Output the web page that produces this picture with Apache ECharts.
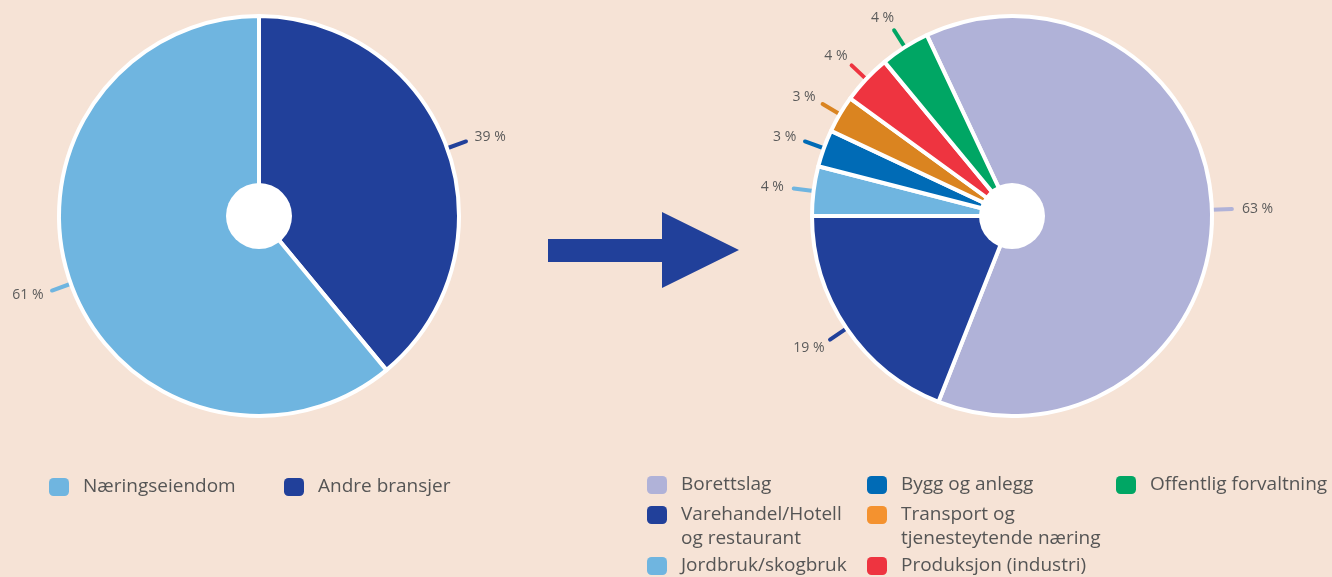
<!DOCTYPE html>
<html>
<head>
<meta charset="utf-8">
<script src="https://cdn.jsdelivr.net/npm/echarts@6/dist/echarts.min.js"></script>
<style>
  html, body { margin: 0; padding: 0; background: #f6e3d6; }
  #chart { width: 1332px; height: 577px; }
</style>
</head>
<body>
<div id="chart"></div>
<script>
// left pie, clockwise from 12 o'clock
var leftNames = ['Andre bransjer', 'Næringseiendom'];
var leftValues = [39, 61];
var leftColors = ['#21409a', '#6fb5e0'];

// right pie, clockwise
var rightNames = [
  'Borettslag',
  'Varehandel/Hotell\nog restaurant',
  'Jordbruk/skogbruk',
  'Bygg og anlegg',
  'Transport og\ntjenesteytende næring',
  'Produksjon (industri)',
  'Offentlig forvaltning'
];
var rightValues = [63, 19, 4, 3, 3, 4, 4];
var rightColors = ['#b0b2d8', '#21409a', '#6fb5e0', '#006bb6', '#da8420', '#ee3440', '#00a664'];

var FONT = 'Open Sans';

// put the label text just beyond the end of its (radial) label line
function placeLabel(p) {
  var pts = p.labelLinePoints;
  if (!pts) return {};
  var a = pts[0], b = pts[1];
  var dx = b[0] - a[0], dy = b[1] - a[1];
  var len = Math.sqrt(dx * dx + dy * dy) || 1;
  var ux = dx / len, uy = dy / len;
  return {
    x: b[0] + ux * (p.labelRect.width / 2 + 10),
    y: b[1] + uy * (p.labelRect.height / 2 + 6),
    align: 'center',
    verticalAlign: 'middle',
    labelLinePoints: pts
  };
}

function pieSeries(center, startAngle, names, values, colors) {
  return {
    type: 'pie',
    center: center,
    radius: [0, 200],
    startAngle: startAngle,
    clockwise: true,
    avoidLabelOverlap: false,
    emphasis: { disabled: true },
    itemStyle: { borderColor: '#fff', borderWidth: 4 },
    label: {
      show: true,
      formatter: '{c} %',
      fontFamily: FONT,
      fontSize: 14,
      lineHeight: 16,
      color: '#5b5b5b'
    },
    labelLine: {
      show: true,
      length: 20,
      length2: 0,
      lineStyle: { width: 4, cap: 'round' }
    },
    labelLayout: placeLabel,
    data: names.map(function (n, i) {
      return { name: n, value: values[i], itemStyle: { color: colors[i] } };
    })
  };
}

function hole(center) {
  return {
    type: 'pie',
    center: center,
    radius: [0, 33],
    silent: true,
    label: { show: false },
    labelLine: { show: false },
    data: [{ name: '', value: 1, itemStyle: { color: '#fff' } }]
  };
}

// one legend per item so the grid matches: name, icon x, icon centre y, icon colour
// two-line names get an empty first line so the icon sits beside the first text line
function legendAt(name, x, cy, color) {
  var two = name.indexOf('\n') >= 0;
  return {
    data: [color ? { name: name, itemStyle: { color: color } } : name],
    left: x,
    top: two ? cy - 36 : cy - 12,
    padding: 0,
    icon: 'roundRect',
    itemWidth: 20,
    itemHeight: 18,
    itemStyle: { borderWidth: 0 },
    selectedMode: false,
    formatter: function (n) { return n.indexOf('\n') >= 0 ? '\n' + n : n; },
    textStyle: {
      fontFamily: FONT,
      fontSize: 19,
      lineHeight: 24,
      color: '#555',
      padding: [0, 0, 0, 9]
    }
  };
}

var chart = echarts.init(document.getElementById('chart'));
chart.setOption({
  backgroundColor: '#f6e3d6',
  animation: false,
  legend: [
    legendAt('Næringseiendom', 49, 487),
    legendAt('Andre bransjer', 284, 487),
    legendAt(rightNames[0], 647, 485),
    legendAt(rightNames[1], 647, 515),
    legendAt(rightNames[2], 647, 566),
    legendAt(rightNames[3], 867, 485),
    legendAt(rightNames[4], 867, 515, '#f4922f'),
    legendAt(rightNames[5], 867, 566),
    legendAt(rightNames[6], 1116, 485)
  ],
  graphic: [{
    type: 'polygon',
    shape: {
      points: [[548, 239], [662, 239], [662, 212], [739, 250], [662, 288], [662, 262], [548, 262]]
    },
    style: { fill: '#21409a' }
  }],
  series: [
    pieSeries([259, 216], 90, leftNames, leftValues, leftColors),
    hole([259, 216]),
    pieSeries([1012, 216], 115.2, rightNames, rightValues, rightColors),
    hole([1012, 216])
  ]
});
</script>
</body>
</html>
